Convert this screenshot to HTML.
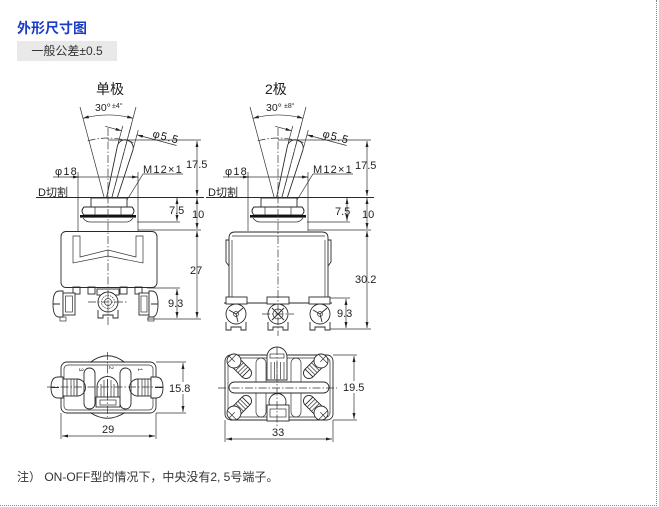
<!DOCTYPE html>
<html><head><meta charset="utf-8">
<style>
html,body{margin:0;padding:0;background:#fff;}
body{width:659px;height:507px;position:relative;overflow:hidden;font-family:"Liberation Sans","Noto Sans CJK SC",sans-serif;}
.h{position:absolute;left:17px;top:21px;font-size:14px;line-height:14px;font-weight:bold;color:#1a3cc8;white-space:nowrap;}
.tol{position:absolute;left:17px;top:41px;width:100px;height:20px;background:#e9e9e9;font-size:12px;color:#333;line-height:20px;text-align:center;white-space:nowrap;}
.note{position:absolute;left:17px;top:470px;font-size:12px;line-height:14px;color:#333;white-space:nowrap;}
.vb{position:absolute;left:656px;top:0;height:506px;border-left:1px dotted #888;}
.hb{position:absolute;left:0;top:505px;width:657px;border-top:1px dotted #888;}
svg{position:absolute;left:0;top:0;}
</style></head>
<body>
<div class="h">外形尺寸图</div>
<div class="tol">一般公差±0.5</div>
<div class="note">注） ON-OFF型的情况下，中央没有2, 5号端子。</div>
<div class="vb"></div>
<div class="hb"></div>

<svg width="659" height="507" viewBox="0 0 659 507" xmlns="http://www.w3.org/2000/svg" font-family="'Liberation Sans','Noto Sans CJK SC',sans-serif">
<defs>
<marker id="a" viewBox="0 0 8 4" refX="8" refY="2" markerWidth="6" markerHeight="3" markerUnits="userSpaceOnUse" orient="auto-start-reverse"><path d="M0,0 L8,2 L0,4 z" fill="#222"/></marker>
<style>
.s{fill:none;stroke:#2a2a2a;stroke-width:.9}
.d{fill:none;stroke:#333;stroke-width:.7}
.c{fill:none;stroke:#333;stroke-width:.7;stroke-dasharray:8 2 1.5 2}
.t{font-size:11px;fill:#222}
.m{font-size:11px;fill:#222;letter-spacing:1.2px}
.w{fill:#fff}
</style>
<g id="top">
 <path class="d" d="M108,212 L80,107 M108,212 L136,107"/>
 <path class="d" d="M82.9,118.3 A97,97 0 0,1 133.1,118.3" marker-start="url(#a)" marker-end="url(#a)"/>
 <path class="c" d="M87.6,140.9 A74,74 0 0,1 133.3,142.5"/>
 <g transform="rotate(15 108 212)">
  <path class="s" d="M103,200 L100,145.5 A8,8 0 0,1 116,145.5 L113,200"/>
  <path class="c" d="M108,212 V120"/>
  <path class="d" d="M100,143 V125 M116,143 V125"/>
  <path class="d" d="M83,130 H100" marker-end="url(#a)"/>
  <path class="d" d="M157,130 H116" marker-end="url(#a)"/>
 </g>
 <path class="d" d="M78,172 V231 M138,172 V231"/>
 <path class="d" d="M53,177 H138"/>
 <path class="d" d="M70,177 H79" marker-end="url(#a)"/>
 <path class="d" d="M128,177 H138" marker-end="url(#a)"/>
 <path class="s" d="M36,197.5 H204"/>
 <rect class="s w" x="91" y="198" width="36" height="9"/>
 <path class="s w" d="M84,207 H132 Q136,211 132,215 H84 Q80,211 84,207 Z"/>
 <path class="d" d="M95,207 V215 M121,207 V215"/>
 <rect x="80" y="215" width="56" height="2.6" fill="#111"/>
 <path class="d" d="M83,218 Q86,222 90,222 H126 Q130,222 133,218"/>
 <path class="d" d="M183,174 H143 L127,200"/>
 <path class="d" d="M108,140 H201"/>
 <path class="d" d="M197,141 V196" marker-start="url(#a)" marker-end="url(#a)"/>
 <path class="d" d="M197,198 V229" marker-start="url(#a)" marker-end="url(#a)"/>
 <path class="d" d="M177,198 V221" marker-start="url(#a)" marker-end="url(#a)"/>
 <path class="d" d="M137,222 H180 M138,230 H201"/>
</g>
<g id="scr">
 <rect class="s w" x="4" y="-5.5" width="13" height="11"/>
 <path class="d" d="M8,-5.5 V5.5 M11,-5.5 V5.5 M14,-5.5 V5.5"/>
 <path class="s" d="M17,-5.5 A5.5,5.5 0 0,1 17,5.5"/>
 <circle class="s w" cx="0" cy="0" r="7"/>
 <path class="d" d="M-7,0 H1 M-3,-6 V6"/>
</g>
</defs>

<!-- LEFT TOP (单极) -->
<use href="#top"/>
<text x="96" y="94" font-size="14" fill="#222">单极</text>
<text x="95" y="111" font-size="10.5" fill="#222">30°</text><text x="112" y="108" font-size="7" fill="#222">±4°</text>
<text class="m" x="131" y="128" transform="rotate(15 108 212)">φ5.5</text>
<text class="m" x="55" y="175">φ18</text>
<text class="t" x="38" y="196">D切割</text>
<text class="m" x="143" y="173">M12×1</text>
<text class="t" x="186" y="168">17.5</text>
<text class="t" x="169" y="214">7.5</text>
<text class="t" x="192" y="218">10</text>
<text class="t" x="190" y="274">27</text>
<text class="t" x="168" y="307">9.3</text>

<rect class="s" x="61" y="231.5" width="96" height="56" rx="5"/>
<path class="d" d="M73,236 V263 L108,256 L143,263 V236 H136 V257 L108,250 L80,257 V236 Z"/>
<rect class="s" x="73" y="287" width="7" height="7"/>
<rect class="s" x="88" y="287" width="7" height="7"/>
<rect class="s" x="120" y="287" width="7" height="7"/>
<rect class="s" x="135" y="287" width="7" height="7"/>
<path class="s w" d="M63,291 H59 Q53,291 53,304 Q53,317 59,317 H63 Z M53,304 H60"/>
<rect class="s w" x="63" y="293" width="12" height="22"/>
<rect class="d" x="65.5" y="296" width="7" height="16"/>
<rect class="d" x="60" y="317" width="6" height="4"/>
<rect class="s w" x="139" y="293" width="10" height="22"/>
<rect class="d" x="141" y="296" width="6" height="16"/>
<path class="s w" d="M149,291 H152 Q158,291 158,304 Q158,317 152,317 H149 Z M158,304 H151"/>
<rect class="d" x="148" y="317" width="6" height="4"/>
<rect class="s w" x="97" y="289" width="22" height="6"/>
<circle class="s w" cx="108" cy="302" r="10"/>
<circle class="d" cx="108" cy="302" r="6.5" stroke-dasharray="1.5 1"/>
<circle class="d" cx="108" cy="302" r="3.5"/>
<path class="s" d="M98,310 V318 H103 V315 H113 V318 H118 V310"/>
<path class="c" d="M108,128 V327 M88,302 H128"/>
<path class="d" d="M197,231 V318" marker-start="url(#a)" marker-end="url(#a)"/>
<path class="d" d="M177,289 V318" marker-start="url(#a)" marker-end="url(#a)"/>
<path class="d" d="M147,288 H180 M147,319 H201"/>

<!-- RIGHT TOP (2极) -->
<use href="#top" transform="translate(170,0)"/>
<text x="265" y="94" font-size="14" fill="#222">2极</text>
<text x="266" y="111" font-size="10.5" fill="#222">30°</text><text x="284" y="108" font-size="7" fill="#222">±8°</text>
<text class="m" x="131" y="128" transform="translate(170,0) rotate(15 108 212)">φ5.5</text>
<text class="m" x="225" y="175">φ18</text>
<text class="t" x="208" y="196">D切割</text>
<text class="m" x="313" y="173">M12×1</text>
<text class="t" x="355" y="169">17.5</text>
<text class="t" x="335" y="215">7.5</text>
<text class="t" x="362" y="218">10</text>
<text class="t" x="355" y="283">30.2</text>
<text class="t" x="337" y="317">9.3</text>

<path class="s" d="M229,297 V238 Q229,232 235,232 H322 Q328,232 328,238 V297"/>
<path class="d" d="M232,236 H325 M232,240 V297 M325,240 V297"/>
<path class="s" d="M229,240 H226 V262 L229,266 M328,240 H331 V262 L328,266"/>
<path class="s" d="M224,303 H332"/>
<rect class="s w" x="226" y="297" width="21" height="7"/>
<rect class="s w" x="267" y="297" width="22" height="7"/>
<rect class="s w" x="309" y="297" width="21" height="7"/>
<path class="s" d="M226,322 V330 H231 V327 H241 V330 H246 V322 M268,322 V330 H273 V327 H283 V330 H288 V322 M310,322 V330 H315 V327 H325 V330 H330 V322"/>
<circle class="s w" cx="236" cy="314" r="10"/>
<circle class="s w" cx="278" cy="314" r="10"/>
<circle class="s w" cx="320" cy="314" r="10"/>
<path class="s" stroke-width="1.6" d="M236,314 L243,308 M236,314 L229,310 M236,314 L238,322 M320,314 L327,308 M320,314 L313,310 M320,314 L322,322"/>
<circle class="d" cx="236" cy="314" r="2.5"/>
<circle class="d" cx="320" cy="314" r="2.5"/>
<path class="s" stroke-width="1.4" d="M272,308 L284,320 M284,308 L272,320"/>
<circle class="d" cx="278" cy="314" r="5"/>
<path class="c" d="M278,128 V336 M262,314 H294"/>
<path class="d" d="M367,231 V328" marker-start="url(#a)" marker-end="url(#a)"/>
<path class="d" d="M346,299 V328" marker-start="url(#a)" marker-end="url(#a)"/>
<path class="d" d="M330,298 H350 M330,329 H371"/>

<!-- BOTTOM LEFT -->
<rect class="s" x="61" y="362" width="95" height="51" rx="6"/>
<rect class="d" x="64" y="365" width="89" height="45" rx="4"/>
<path class="s" d="M90,362.5 Q107.5,349 125,362.5 M90,412.5 Q107.5,424 125,412.5"/>
<rect class="s" x="84" y="368" width="11" height="41" rx="5.5"/>
<rect class="s" x="120" y="368" width="11" height="41" rx="5.5"/>
<path class="s w" d="M63,377 H58 Q51,377 51,387.5 Q51,398 58,398 H63 Z M51,387.5 H59"/>
<rect class="s w" x="63" y="379" width="14" height="17"/>
<path class="d" d="M67,379 V396 M71,379 V396 M74,379 V396"/>
<path class="s" d="M77,379 A8.5,8.5 0 0,1 77,396"/>
<path class="s" d="M138,379 A8.5,8.5 0 0,0 138,396"/>
<rect class="s w" x="138" y="379" width="13" height="17"/>
<path class="d" d="M142,379 V396 M145,379 V396 M148,379 V396"/>
<path class="s w" d="M151,377 H156 Q163,377 163,387.5 Q163,398 156,398 H151 Z M163,387.5 H155"/>
<path class="s w" d="M97,398 V387 A10.5,10.5 0 0,1 118,387 V398 Z"/>
<path class="d" d="M101,384 V398 M104,380 V398 M107.5,379 V398 M111,380 V398 M114,384 V398"/>
<rect class="s w" x="96" y="397" width="24" height="10"/>
<rect class="d" x="100" y="400" width="16" height="5"/>
<text x="75" y="368" font-size="6" fill="#333" transform="rotate(90 77 370)">3</text>
<text x="105" y="366" font-size="6" fill="#333" transform="rotate(90 107 368)">2</text>
<text x="134" y="368" font-size="6" fill="#333" transform="rotate(90 136 370)">1</text>
<path class="c" d="M47,387 H165 M107.5,352 V417"/>
<path class="d" d="M156,362 H186 M156,413 H186"/>
<path class="d" d="M183,363 V412" marker-start="url(#a)" marker-end="url(#a)"/>
<rect x="168" y="382" width="26" height="12" fill="#fff"/>
<text class="t" x="169" y="392">15.8</text>
<path class="d" d="M61,413 V439 M156,413 V439"/>
<path class="d" d="M62,436 H155" marker-start="url(#a)" marker-end="url(#a)"/>
<text class="t" x="102" y="433">29</text>

<!-- BOTTOM RIGHT -->
<rect class="s" x="225" y="355" width="108" height="65" rx="6"/>
<rect class="d" x="228" y="358" width="102" height="59" rx="4"/>
<rect class="d" x="256" y="358" width="10" height="59" rx="5"/>
<rect class="d" x="291" y="358" width="10" height="59" rx="5"/>
<rect class="s w" x="229" y="382" width="100" height="11" rx="5.5"/>
<use href="#scr" transform="translate(234,361) rotate(45)"/>
<use href="#scr" transform="translate(321,361) rotate(135)"/>
<use href="#scr" transform="translate(234,413) rotate(-45)"/>
<use href="#scr" transform="translate(321,413) rotate(-135)"/>
<path class="s w" d="M267,380 V357 A10,10 0 0,1 287,357 V380 Z"/>
<rect class="d" x="270" y="354" width="14" height="4"/>
<path class="d" d="M271,362 V379 M274.5,362 V379 M277,362 V379 M280.5,362 V379 M284,362 V379"/>
<circle class="s w" cx="277.5" cy="402" r="8.5"/>
<rect class="s w" x="267" y="405" width="22" height="16"/>
<rect class="d" x="270" y="409" width="16" height="8"/>
<path class="c" d="M218,388 H337 M277,347 V428"/>
<path class="d" d="M333,355 H357 M333,420 H357"/>
<path class="d" d="M354,356 V419" marker-start="url(#a)" marker-end="url(#a)"/>
<rect x="342" y="381" width="26" height="12" fill="#fff"/>
<text class="t" x="343" y="391">19.5</text>
<path class="d" d="M225,420 V442 M333,420 V442"/>
<path class="d" d="M226,439 H332" marker-start="url(#a)" marker-end="url(#a)"/>
<text class="t" x="272" y="436">33</text>
</svg>
</body></html>
